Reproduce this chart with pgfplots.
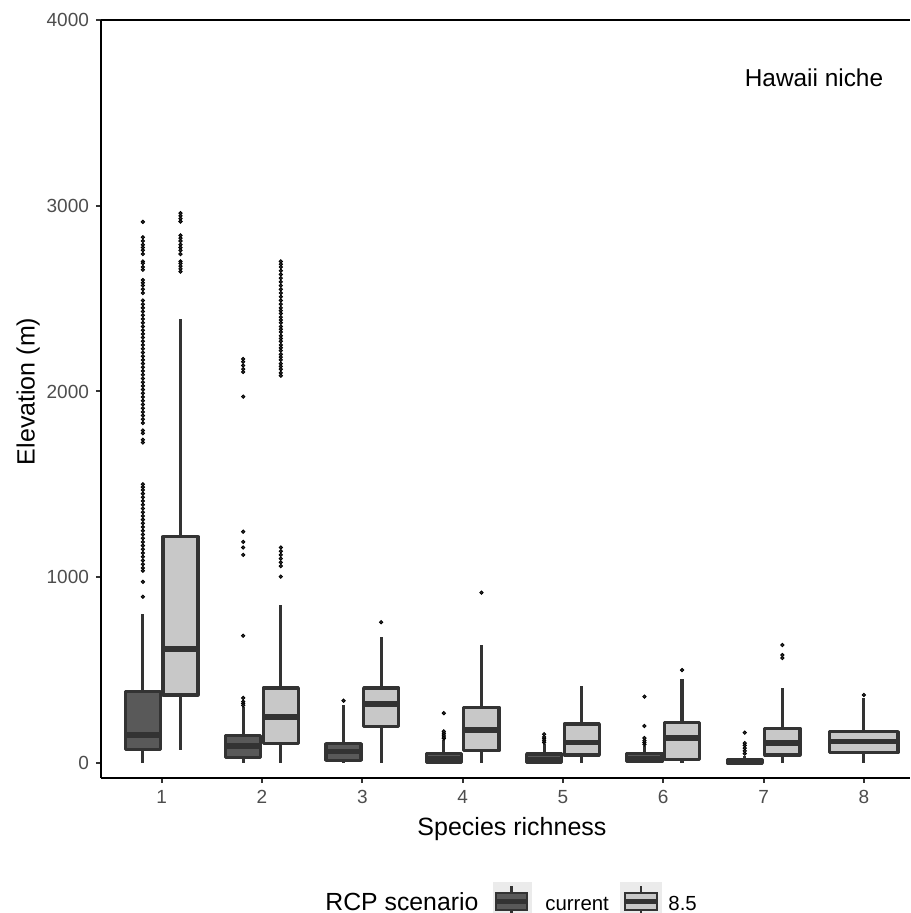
\documentclass[border=0pt]{standalone}
\usepackage{fontspec}
\setmainfont{Liberation Sans}
\usepackage{pgfplots}
\pgfplotsset{compat=1.18}
\definecolor{curfill}{HTML}{595959}
\definecolor{rcpfill}{HTML}{C8C8C8}
\definecolor{edge}{HTML}{333333}
\definecolor{ticklab}{HTML}{4D4D4D}
\definecolor{keybg}{HTML}{EBEBEB}
% #1 fill, #2 left, #3 centre, #4 right, #5 lower whisker, #6 Q1, #7 median, #8 Q3, #9 upper whisker
\newcommand{\bx}[9]{%
  \addplot[edge, line width=1.6pt, line cap=butt] coordinates {(#3,#5) (#3,#6)};
  \addplot[edge, line width=1.6pt, line cap=butt] coordinates {(#3,#8) (#3,#9)};
  \addplot[draw=edge, fill=#1, line width=1.6pt, line join=round] coordinates {(#2,#6) (#4,#6) (#4,#8) (#2,#8)} -- cycle;
  \addplot[edge, line width=2.8pt, line cap=butt] coordinates {(#2,#7) (#4,#7)};
}
\pgfplotsset{outl/.style={only marks, mark=*, mark size=0.85pt, mark options={draw=none, fill=edge}}}
\begin{document}
\begin{tikzpicture}
\path[use as bounding box] (-50.5pt,-67.5pt) rectangle (404.5pt,389pt);
\begin{axis}[
  scale only axis, width=404.5pt, height=379pt,
  xmin=0.395, xmax=8.46, ymin=-81, ymax=4000,
  enlargelimits=false,
  axis x line*=bottom, axis y line*=left,
  axis line style={line width=1.4pt, black},
  xtick={1,2,3,4,5,6,7,8},
  ytick={0,1000,2000,3000,4000},
  scaled y ticks=false,
  /pgf/number format/assume math mode=true,
  yticklabel style={/pgf/number format/1000 sep={}, font=\fontsize{9.5}{11}\selectfont, text=ticklab},
  xticklabel style={font=\fontsize{9.5}{11}\selectfont, text=ticklab},
  tick align=outside, major tick length=2.5pt,
  tick style={line width=1pt, edge},
  xlabel={Species richness}, ylabel={Elevation (m)},
  xlabel style={font=\fontsize{12.5}{14}\selectfont, at={(axis description cs:0.508,-0.0673)}, anchor=center},
  ylabel style={font=\fontsize{12.5}{14}\selectfont, at={(axis description cs:-0.090,0.51)}, anchor=center},
]
% ---- group 1
\bx{curfill}{0.6375}{0.8125}{0.9875}{0}{74}{151}{384}{800}
\addplot[outl] table[row sep=\\, x expr=0.8125, y index=0] {y\\ 2913\\ 2830\\ 2810\\ 2790\\ 2775\\ 2760\\ 2740\\ 2700\\ 2690\\ 2670\\ 2655\\ 2600\\ 2585\\ 2570\\ 2550\\ 2530\\ 2490\\ 2470\\ 2450\\ 2430\\ 2410\\ 2390\\ 2370\\ 2350\\ 2330\\ 2310\\ 2290\\ 2270\\ 2250\\ 2230\\ 2210\\ 2190\\ 2170\\ 2150\\ 2130\\ 2110\\ 2090\\ 2070\\ 2050\\ 2030\\ 2010\\ 1990\\ 1970\\ 1950\\ 1930\\ 1910\\ 1890\\ 1870\\ 1850\\ 1830\\ 1790\\ 1775\\ 1740\\ 1725\\ 1500\\ 1485\\ 1470\\ 1450\\ 1430\\ 1410\\ 1390\\ 1370\\ 1350\\ 1330\\ 1310\\ 1290\\ 1270\\ 1250\\ 1230\\ 1210\\ 1190\\ 1170\\ 1150\\ 1130\\ 1110\\ 1090\\ 1070\\ 1050\\ 1035\\ 975\\ 895\\};
\bx{rcpfill}{1.0125}{1.1875}{1.3625}{70}{366}{612}{1218}{2390}
\addplot[outl] table[row sep=\\, x expr=1.1875, y index=0] {y\\ 2960\\ 2945\\ 2930\\ 2915\\ 2840\\ 2825\\ 2810\\ 2790\\ 2775\\ 2760\\ 2740\\ 2700\\ 2690\\ 2675\\ 2660\\ 2645\\};
% ---- group 2
\bx{curfill}{1.6375}{1.8125}{1.9875}{0}{31}{92}{148}{303}
\addplot[outl] table[row sep=\\, x expr=1.8125, y index=0] {y\\ 2175\\ 2160\\ 2140\\ 2120\\ 2105\\ 1972\\ 1245\\ 1190\\ 1160\\ 1120\\ 685\\ 350\\ 330\\ 320\\ 310\\};
\bx{rcpfill}{2.0125}{2.1875}{2.3625}{0}{104}{248}{404}{848}
\addplot[outl] table[row sep=\\, x expr=2.1875, y index=0] {y\\ 2700\\ 2685\\ 2670\\ 2650\\ 2630\\ 2610\\ 2590\\ 2570\\ 2550\\ 2530\\ 2510\\ 2490\\ 2470\\ 2450\\ 2435\\ 2420\\ 2400\\ 2385\\ 2370\\ 2350\\ 2335\\ 2320\\ 2300\\ 2285\\ 2270\\ 2250\\ 2235\\ 2220\\ 2200\\ 2185\\ 2170\\ 2150\\ 2135\\ 2120\\ 2100\\ 2085\\ 1160\\ 1140\\ 1120\\ 1100\\ 1080\\ 1060\\ 1003\\};
% ---- group 3
\bx{curfill}{2.6375}{2.8125}{2.9875}{0}{14}{62}{104}{310}
\addplot[outl] table[row sep=\\, x expr=2.8125, y index=0] {y\\ 335\\};
\bx{rcpfill}{3.0125}{3.1875}{3.3625}{0}{198}{318}{404}{680}
\addplot[outl] table[row sep=\\, x expr=3.1875, y index=0] {y\\ 758\\};
% ---- group 4
\bx{curfill}{3.6375}{3.8125}{3.9875}{0}{3}{20}{50}{125}
\addplot[outl] table[row sep=\\, x expr=3.8125, y index=0] {y\\ 132\\ 140\\ 150\\ 160\\ 170\\ 268\\};
\bx{rcpfill}{4.0125}{4.1875}{4.3625}{0}{65}{178}{300}{635}
\addplot[outl] table[row sep=\\, x expr=4.1875, y index=0] {y\\ 917\\};
% ---- group 5
\bx{curfill}{4.6375}{4.8125}{4.9875}{0}{2}{18}{48}{100}
\addplot[outl] table[row sep=\\, x expr=4.8125, y index=0] {y\\ 110\\ 120\\ 130\\ 140\\ 155\\};
\bx{rcpfill}{5.0125}{5.1875}{5.3625}{0}{43}{111}{210}{414}
% ---- group 6
\bx{curfill}{5.6375}{5.8125}{5.9875}{0}{6}{25}{52}{90}
\addplot[outl] table[row sep=\\, x expr=5.8125, y index=0] {y\\ 100\\ 110\\ 120\\ 134\\ 199\\ 357\\};
\bx{rcpfill}{6.0125}{6.1875}{6.3625}{0}{20}{133}{217}{450}
\addplot[outl] table[row sep=\\, x expr=6.1875, y index=0] {y\\ 500\\};
% ---- group 7
\bx{curfill}{6.6375}{6.8125}{6.9875}{0}{0}{6}{20}{40}
\addplot[outl] table[row sep=\\, x expr=6.8125, y index=0] {y\\ 50\\ 65\\ 80\\ 95\\ 107\\ 163\\};
\bx{rcpfill}{7.0125}{7.1875}{7.3625}{0}{43}{106}{187}{402}
\addplot[outl] table[row sep=\\, x expr=7.1875, y index=0] {y\\ 565\\ 581\\ 635\\};
% ---- group 8
\bx{rcpfill}{7.66}{8}{8.34}{0}{56}{115}{169}{348}
\addplot[outl] table[row sep=\\, x expr=8, y index=0] {y\\ 366\\};
\draw[line width=1.4pt, black] (rel axis cs:0,1) -- (rel axis cs:1,1);
\node[font=\fontsize{12.2}{14}\selectfont] at (axis description cs:0.8813,0.9235) {Hawaii niche};
\end{axis}
% legend
\node[anchor=base west, inner sep=0pt, font=\fontsize{12.4}{14}\selectfont] at (112pt,-66pt) {RCP scenario};
\fill[keybg] (196pt,-52pt) rectangle (215.5pt,-72pt);
\draw[edge, line width=1.4pt] (205.25pt,-54pt) -- (205.25pt,-57.5pt);
\draw[edge, line width=1.4pt] (205.25pt,-66pt) -- (205.25pt,-70pt);
\draw[edge, fill=curfill, line width=1.4pt] (197.5pt,-57.5pt) rectangle (213pt,-66pt);
\draw[edge, line width=2.2pt] (197.5pt,-61.8pt) -- (213pt,-61.8pt);
\node[anchor=base west, inner sep=0pt, font=\fontsize{10.2}{12}\selectfont] at (222pt,-66pt) {current};
\fill[keybg] (259.5pt,-52pt) rectangle (280.5pt,-72pt);
\draw[edge, line width=1.4pt] (270pt,-54pt) -- (270pt,-57.5pt);
\draw[edge, line width=1.4pt] (270pt,-66pt) -- (270pt,-70pt);
\draw[edge, fill=rcpfill, line width=1.4pt] (262pt,-57.5pt) rectangle (278pt,-66pt);
\draw[edge, line width=2.2pt] (262pt,-61.8pt) -- (278pt,-61.8pt);
\node[anchor=base west, inner sep=0pt, font=\fontsize{10.2}{12}\selectfont] at (283.5pt,-66pt) {8.5};
\end{tikzpicture}
\end{document}
